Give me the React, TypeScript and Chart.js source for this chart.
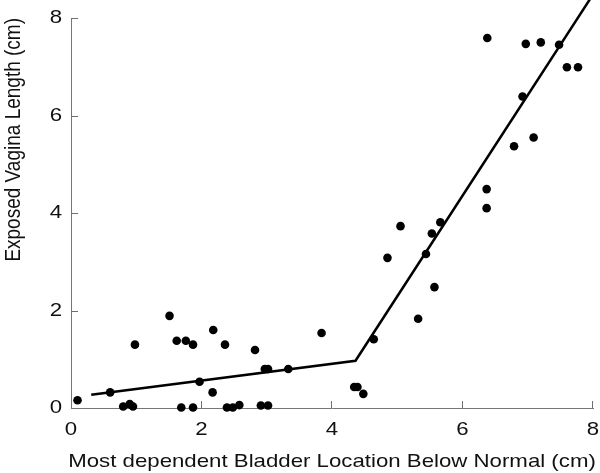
import React, { useEffect, useRef } from "react";
import { Chart, registerables } from "chart.js";

Chart.register(...registerables);

const pointX = [
  0.10, 0.60, 0.80, 0.90, 0.95, 0.98, 1.51, 1.62, 1.76, 1.87, 1.69, 1.87,
  1.97, 2.18, 2.17, 2.36, 2.39, 2.48, 2.58, 2.82, 2.91, 3.02, 2.97, 3.02,
  3.33, 3.84, 4.34, 4.39, 4.48, 4.64, 5.32, 5.57, 4.85, 5.05, 5.44, 5.53,
  5.66, 6.37, 6.37, 6.79, 7.09, 6.92, 6.38, 6.97, 7.20, 7.48, 7.60, 7.77,
];
const pointY = [
  0.16, 0.32, 0.03, 0.08, 0.03, 1.30, 1.89, 1.38, 1.38, 1.30, 0.01, 0.01,
  0.54, 1.60, 0.32, 1.30, 0.01, 0.01, 0.06, 1.19, 0.05, 0.05, 0.80, 0.80,
  0.80, 1.54, 0.43, 0.43, 0.29, 1.41, 1.83, 2.48, 3.08, 3.73, 3.16, 3.58,
  3.81, 4.10, 4.49, 5.37, 5.55, 6.39, 7.59, 7.47, 7.50, 7.45, 6.99, 6.99,
];
const fitX = [0.31, 4.36, 7.97];
const fitY = [0.27, 0.97, 8.42];
const xTicks = [0, 2, 4, 6, 8];
const yTicks = [0, 2, 4, 6, 8];
const xTitle = "Most dependent Bladder Location Below Normal (cm)";
const yTitle = "Exposed Vagina Length (cm)";

const FONT = "'Liberation Sans', Arial, Helvetica, sans-serif";
const STRETCH = 1.17;

// Text in the reference is horizontally stretched; stretch each text run about its anchor.
const stretchText = {
  id: "stretchText",
  beforeDraw(chart: any) {
    const ctx = chart.ctx;
    if (ctx.__stretched) return;
    const orig = ctx.fillText;
    ctx.fillText = function (text: string, x: number, y: number, mw?: number) {
      const m = this.getTransform();
      const p = m.transformPoint(new DOMPoint(x, y));
      const n = new DOMMatrix()
        .translate(p.x, p.y)
        .scale(STRETCH, 1)
        .translate(-p.x, -p.y)
        .multiply(m);
      this.setTransform(n);
      if (mw === undefined) orig.call(this, text, x, y);
      else orig.call(this, text, x, y, mw * 2);
      this.setTransform(m);
    };
    ctx.__stretched = true;
  },
};

const inwardTicks = {
  id: "inwardTicks",
  beforeDatasetsDraw(chart: any) {
    const { ctx, scales } = chart;
    const xs = scales.x;
    const ys = scales.y;
    const len = 7;
    ctx.save();
    ctx.strokeStyle = "#6e6e6e";
    ctx.lineWidth = 1;
    ctx.beginPath();
    xTicks.forEach((v) => {
      if (v === 0) return;
      const px = Math.round(xs.getPixelForValue(v)) - 0.5;
      const py = ys.getPixelForValue(0);
      ctx.moveTo(px, py);
      ctx.lineTo(px, py - len);
    });
    yTicks.forEach((v) => {
      if (v === 0) return;
      const py = Math.round(ys.getPixelForValue(v)) + 0.5;
      const px = xs.getPixelForValue(0);
      ctx.moveTo(px, py);
      ctx.lineTo(px + len, py);
    });
    ctx.stroke();
    ctx.restore();
  },
};

export default function App() {
  const ref = useRef<HTMLCanvasElement>(null);
  useEffect(() => {
    if (!ref.current) return;
    const chart = new Chart(ref.current, {
      type: "scatter",
      data: {
        datasets: [
          {
            data: pointX.map((x, i) => ({ x, y: pointY[i] })),
            backgroundColor: "#000",
            borderColor: "#000",
            pointRadius: 4.3,
            pointBorderWidth: 0,
            clip: false as any,
            order: 1,
          },
          {
            data: fitX.map((x, i) => ({ x, y: fitY[i] })),
            showLine: true,
            borderColor: "#000",
            borderWidth: 2.5,
            pointRadius: 0,
            fill: false,
            clip: false as any,
            order: 2,
          } as any,
        ],
      },
      options: {
        responsive: false,
        animation: false,
        layout: { padding: { left: 0, right: 7, top: 18, bottom: 0 } },
        plugins: { legend: { display: false }, tooltip: { enabled: false } },
        scales: {
          x: {
            type: "linear",
            min: 0,
            max: 8,
            afterBuildTicks: (s: any) => {
              s.ticks = xTicks.map((v) => ({ value: v }));
            },
            afterFit: (s: any) => {
              s.height = 65;
              s.paddingLeft = 0;
              s.paddingRight = 0;
            },
            grid: { display: false, drawTicks: false },
            border: { display: true, color: "#777", width: 1 },
            ticks: {
              color: "#111",
              padding: 10,
              maxRotation: 0,
              font: { family: FONT, size: 19 },
            },
            title: {
              display: true,
              text: xTitle,
              color: "#111",
              padding: 0,
              font: { family: FONT, size: 19 },
            },
          },
          y: {
            type: "linear",
            min: 0,
            max: 8,
            afterBuildTicks: (s: any) => {
              s.ticks = yTicks.map((v) => ({ value: v }));
            },
            afterFit: (s: any) => {
              s.width = 71;
              s.paddingTop = 0;
              s.paddingBottom = 0;
            },
            grid: { display: false, drawTicks: false },
            border: { display: true, color: "#777", width: 1 },
            ticks: {
              color: "#111",
              padding: 9,
              font: { family: FONT, size: 19 },
            },
            title: {
              display: true,
              text: yTitle,
              align: "end",
              color: "#111",
              padding: { top: 2, bottom: 0 },
              font: { family: FONT, size: 19 },
            },
          },
        },
      },
      plugins: [stretchText, inwardTicks],
    });
    return () => chart.destroy();
  }, []);
  return (
    <div style={{ position: "fixed", left: 0, top: 0, width: 600, height: 473, background: "#fff" }}>
      <canvas ref={ref} width={600} height={473} style={{ width: 600, height: 473 }} />
    </div>
  );
}
